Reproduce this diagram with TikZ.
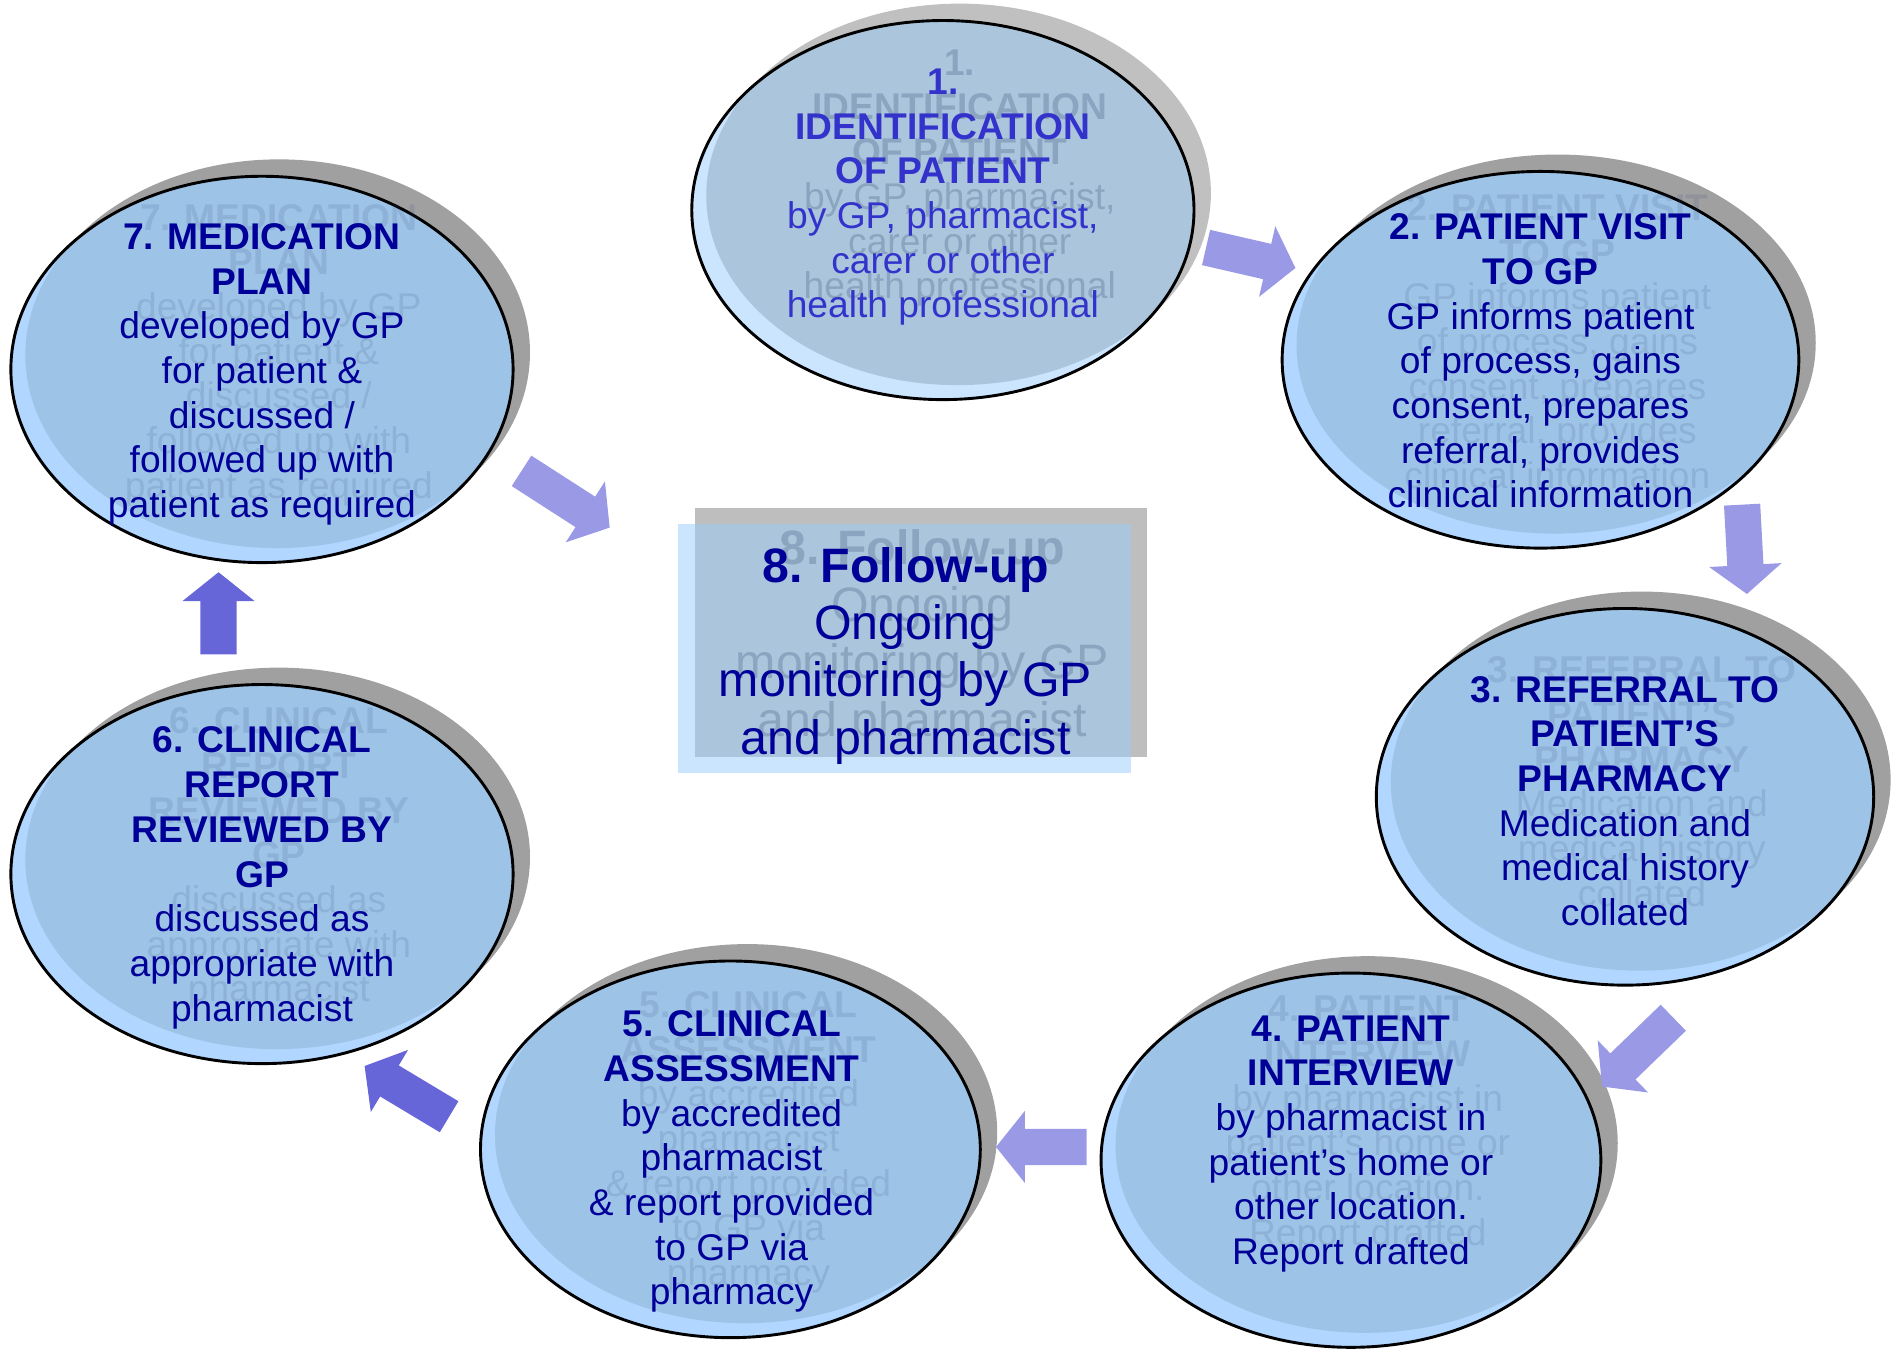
\documentclass[tikz,border=0pt]{standalone}
\usepackage{fontspec}
\setmainfont{Liberation Sans}
\usetikzlibrary{calc,shapes.geometric}

\definecolor{navy}{HTML}{000099}
\definecolor{brightblue}{HTML}{3333CC}
\definecolor{arrowlight}{HTML}{9999E6}
\definecolor{arrowdark}{HTML}{6666D9}
\definecolor{boxshadow}{HTML}{BEBEBE}
\definecolor{boxrim}{HTML}{CCE5FF}
\definecolor{boxface}{HTML}{ABC5DD}
\definecolor{paleghost}{RGB}{68,90,124}

% colour set used by \stepoval (changed for the first step)
\definecolor{ovalshadow}{HTML}{A0A0A0}
\definecolor{ovalrim}{HTML}{B1D6FF}
\definecolor{ovalface}{HTML}{9DC3E6}
\definecolor{ovalghost}{RGB}{50,68,130}
\def\ghostopacity{0.14}
\colorlet{ovaltext}{navy}

\tikzset{
  oval text/.style={anchor=north, inner sep=0pt, align=center, text=ovaltext,
    font=\fontsize{30.8}{37}\selectfont},
  oval ghost/.style={oval text, text=ovalghost, text opacity=\ghostopacity},
  oval border/.style={draw=black, line width=2.4pt, ellipse, inner sep=0pt},
  box text/.style={anchor=north, inner sep=0pt, align=center, text=navy,
    font=\fontsize{40}{47.5}\selectfont},
  box ghost/.style={box text, text=paleghost, text opacity=0.3},
  flow arrow/.style={fill=arrowlight},
  back arrow/.style={fill=arrowdark}
}

% #1 name, #2 centre, #3 x radius, #4 y radius, #5 top of text, #6 text
\newcommand\stepoval[6]{%
  \fill[ovalshadow] ($(#2)+(14,-14)$) ellipse [x radius=#3, y radius=#4];
  \fill[ovalrim] (#2) ellipse [x radius=#3, y radius=#4];
  \begin{scope}
    \clip (#2) ellipse [x radius=#3, y radius=#4];
    \fill[ovalface] ($(#2)+(12,-12)$) ellipse [x radius=#3, y radius=#4];
  \end{scope}
  \node[oval border, minimum width=2*#3, minimum height=2*#4] (#1) at (#2) {};
  \node[oval ghost] (#1-ghost) at ($(#5)+(14,-16)$) {#6};
  \node[oval text] (#1-text) at (#5) {#6};
}

% block arrow from tail coordinate #1 to tip coordinate #2, style #3
\newcommand\blockarrow[3]{%
  \coordinate (#1-head) at ($(#2)!24pt!(#1)$);
  \fill[#3] ($(#1)!15pt!90:(#2)$) -- ($(#1-head)!15pt!90:(#2)$)
    -- ($(#1-head)!30pt!90:(#2)$) -- (#2) -- ($(#1-head)!30pt!-90:(#2)$)
    -- ($(#1-head)!15pt!-90:(#2)$) -- ($(#1)!15pt!-90:(#2)$) -- cycle;
}

\begin{document}
\begin{tikzpicture}[x=1pt, y=-1pt]
\useasboundingbox (0,0) rectangle (1568,1117);

% first step in the paler colour set
\begin{scope}
  \definecolor{ovalshadow}{HTML}{C0C0C0}
  \definecolor{ovalrim}{HTML}{CCE5FF}
  \definecolor{ovalface}{HTML}{ABC5DD}
  \colorlet{ovalghost}{paleghost}
  \def\ghostopacity{0.3}
  \colorlet{ovaltext}{brightblue}
  \stepoval{s1}{781,174}{208}{157}{781,57}{\textbf{1.}\\\textbf{IDENTIFICATION}\\\textbf{OF PATIENT}\\by GP, pharmacist,\\carer or other\\health professional}
\end{scope}

\stepoval{s2}{1276,298}{214}{156}{1276,177}{\textbf{2. PATIENT VISIT}\\\textbf{TO GP}\\GP informs patient\\of process, gains\\consent, prepares\\referral, provides\\clinical information}

\stepoval{s3}{1346,660}{206}{156}{1346,560}{\textbf{3. REFERRAL TO}\\\textbf{PATIENT’S}\\\textbf{PHARMACY}\\Medication and\\medical history\\collated}

\stepoval{s4}{1119,961}{207}{155}{1119,841}{\textbf{4. PATIENT}\\\textbf{INTERVIEW}\\by pharmacist in\\patient’s home or\\other location.\\Report drafted}

\stepoval{s5}{605,952}{207}{156}{606,837}{\textbf{5. CLINICAL}\\\textbf{ASSESSMENT}\\by accredited\\pharmacist\\\& report provided\\to GP via\\pharmacy}

\stepoval{s6}{217,724}{208}{157}{217,602}{\textbf{6. CLINICAL}\\\textbf{REPORT}\\\textbf{REVIEWED BY}\\\textbf{GP}\\discussed as\\appropriate with\\pharmacist}

\stepoval{s7}{217,306}{208}{160}{217,185}{\textbf{7. MEDICATION}\\\textbf{PLAN}\\developed by GP\\for patient \&\\discussed /\\followed up with\\patient as required}

% central follow-up box
\fill[boxshadow] (576,421) rectangle (950,627);
\fill[boxrim] (562,434) rectangle (937,640);
\fill[boxface] (576,434) rectangle (937,627);
\node[box ghost] (s8-ghost) at (764,438) {\textbf{8. Follow-up}\\Ongoing\\monitoring by GP\\and pharmacist};
\node[box text] (s8) at (750,453) {\textbf{8. Follow-up}\\Ongoing\\monitoring by GP\\and pharmacist};

% arrows between the steps
\coordinate (a1) at (999,205);  \coordinate (a1t) at (1073,222);
\coordinate (a2) at (1443,418); \coordinate (a2t) at (1447,492);
\coordinate (a3) at (1386,843); \coordinate (a3t) at (1327,900);
\coordinate (a4) at (900,950);  \coordinate (a4t) at (825,950);
\coordinate (a5) at (372,925);  \coordinate (a5t) at (302,883);
\coordinate (a6) at (181,542);  \coordinate (a6t) at (181,474);
\coordinate (a7) at (432,390);  \coordinate (a7t) at (505,437);
\blockarrow{a1}{a1t}{flow arrow}
\blockarrow{a2}{a2t}{flow arrow}
\blockarrow{a3}{a3t}{flow arrow}
\blockarrow{a4}{a4t}{flow arrow}
\blockarrow{a5}{a5t}{back arrow}
\blockarrow{a6}{a6t}{back arrow}
\blockarrow{a7}{a7t}{flow arrow}
\end{tikzpicture}
\end{document}
